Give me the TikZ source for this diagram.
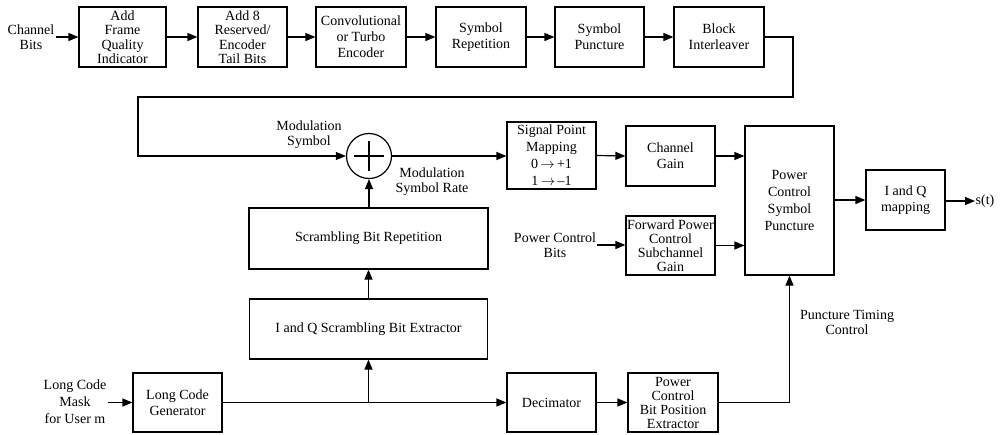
\documentclass[tikz,border=0pt]{standalone}
\usepackage{fontspec}
\setmainfont{Liberation Serif}
\usetikzlibrary{arrows.meta,calc}

\begin{document}
\begin{tikzpicture}[x=1pt,y=-1pt,
  blk/.style={draw, line width=1.2pt, minimum width=89pt, minimum height=60pt,
    align=center, inner sep=1pt, font=\fontsize{14}{16}\selectfont},
  tight/.style={font=\fontsize{14}{14.5}\selectfont},
  lbl/.style={align=center, inner sep=1pt, font=\fontsize{14}{15}\selectfont},
  flow/.style={line width=1.2pt, -{Triangle[length=10pt,width=8pt]}},
  wire/.style={line width=1.2pt}]
\useasboundingbox (0,0) rectangle (1000,434);

% top row: channel coding chain
\node[lbl] (cb) at (31,37) {Channel\\Bits};
\node[blk,tight,minimum width=87pt] (fqi) at (122.5,37) {Add\\Frame\\Quality\\Indicator};
\node[blk,tight] (tail) at (242.5,37) {Add 8\\Reserved/\\Encoder\\Tail Bits};
\node[blk,minimum width=90pt] (enc) at (361,37) {Convolutional\\or Turbo\\Encoder};
\node[blk,minimum width=90pt] (rep) at (481,37) {Symbol\\Repetition};
\node[blk] (punc) at (599.5,37) {Symbol\\Puncture};
\node[blk,minimum width=90pt] (intl) at (719,37) {Block\\Interleaver};

% scrambling sum and modulation path
\node[draw, circle, line width=1.2pt, minimum size=45pt, inner sep=0pt] (sum) at (369,156) {};
\draw[line width=1.2pt] ($(sum.center)+(-15,0)$) -- ($(sum.center)+(15,0)$);
\draw[line width=1.2pt] ($(sum.center)+(0,-15)$) -- ($(sum.center)+(0,15)$);
\node[lbl] (ms) at (309,135) {Modulation\\Symbol};
\node[lbl] (msr) at (432,182) {Modulation\\Symbol Rate};

\node[blk,minimum height=67pt,font=\fontsize{14}{17}\selectfont] (spm) at (551.5,155.5)
  {Signal Point\\Mapping\\0\,$\rightarrow$\,+1\\1\,$\rightarrow$\,\textendash1};
\node[blk] (cg) at (670.5,156) {Channel\\Gain};
\node[blk,minimum height=149pt,font=\fontsize{14}{17}\selectfont] (pcsp) at (789.5,200.5)
  {Power\\Control\\Symbol\\Puncture};
\node[blk,minimum width=79pt] (iq) at (905.5,200) {I and Q\\mapping};
\node[lbl,anchor=west,inner sep=0.5pt] (st) at (975,201) {s(t)};

\node[lbl] (pcb) at (555,245) {Power Control\\Bits};
\node[blk,minimum height=59pt,font=\fontsize{14}{14}\selectfont] (fpc) at (670.5,245.5)
  {Forward Power\\Control\\Subchannel\\Gain};

% scrambling generation
\node[blk,minimum width=239pt,minimum height=61pt] (sbr) at (368.5,238.5) {Scrambling Bit Repetition};
\node[blk,minimum width=238pt] (iqx) at (368.5,329) {I and Q Scrambling Bit Extractor};
\node[lbl,font=\fontsize{14}{17}\selectfont] (lcm) at (75,402) {Long Code\\Mask\\for User m};
\node[blk,minimum height=59pt] (lcg) at (177.5,402.5) {Long Code\\Generator};
\node[blk,minimum height=59pt] (dec) at (551.5,402.5) {Decimator};
\node[blk,minimum width=90pt,minimum height=59pt,font=\fontsize{14}{14}\selectfont] (pcbp) at (673,402.5)
  {Power\\Control\\Bit Position\\Extractor};
\node[lbl] (ptc) at (847,322) {Puncture Timing\\Control};

% connectors along the top row
\draw[flow] (cb.east) -- (fqi.west);
\draw[flow] (fqi) -- (tail);
\draw[flow] (tail) -- (enc);
\draw[flow] (enc) -- (rep);
\draw[flow] (rep) -- (punc);
\draw[flow] (punc) -- (intl);

% interleaver output folds back to the sum
\coordinate (r1) at (793,37);
\coordinate (r2) at (793,97);
\coordinate (r3) at (138,97);
\coordinate (r4) at (138,156);
\draw[flow] (intl.east) -- (r1) -- (r2) -- (r3) -- (r4) -- (sum.west);

\draw[flow] (sum.east) -- (spm.west |- sum.east);
\draw[flow] (spm.east) -- (cg.west);
\draw[flow] (cg.east) -- (pcsp.west |- cg.east);
\draw[flow] (pcb.east) -- (fpc.west |- pcb.east);
\draw[flow] (fpc.east) -- (pcsp.west |- fpc.east);
\draw[flow] (pcsp.east |- iq.west) -- (iq.west);
\draw[flow] (iq.east |- st.west) -- (st.west);

% scrambling and timing paths
\draw[flow] (sbr.north -| sum.south) -- (sum.south);
\draw[flow] (iqx.north) -- (sbr.south);
\draw[flow] (lcm.east |- lcg.west) -- (lcg.west);
\coordinate (tap) at (368.5,402.5);
\draw[flow] (lcg.east) -- (dec.west);
\draw[flow] (tap) -- (iqx.south);
\draw[flow] (dec.east) -- (pcbp.west);
\coordinate (up) at (pcsp.south |- pcbp.east);
\draw[flow] (pcbp.east) -- (up) -- (pcsp.south);
\end{tikzpicture}
\end{document}
